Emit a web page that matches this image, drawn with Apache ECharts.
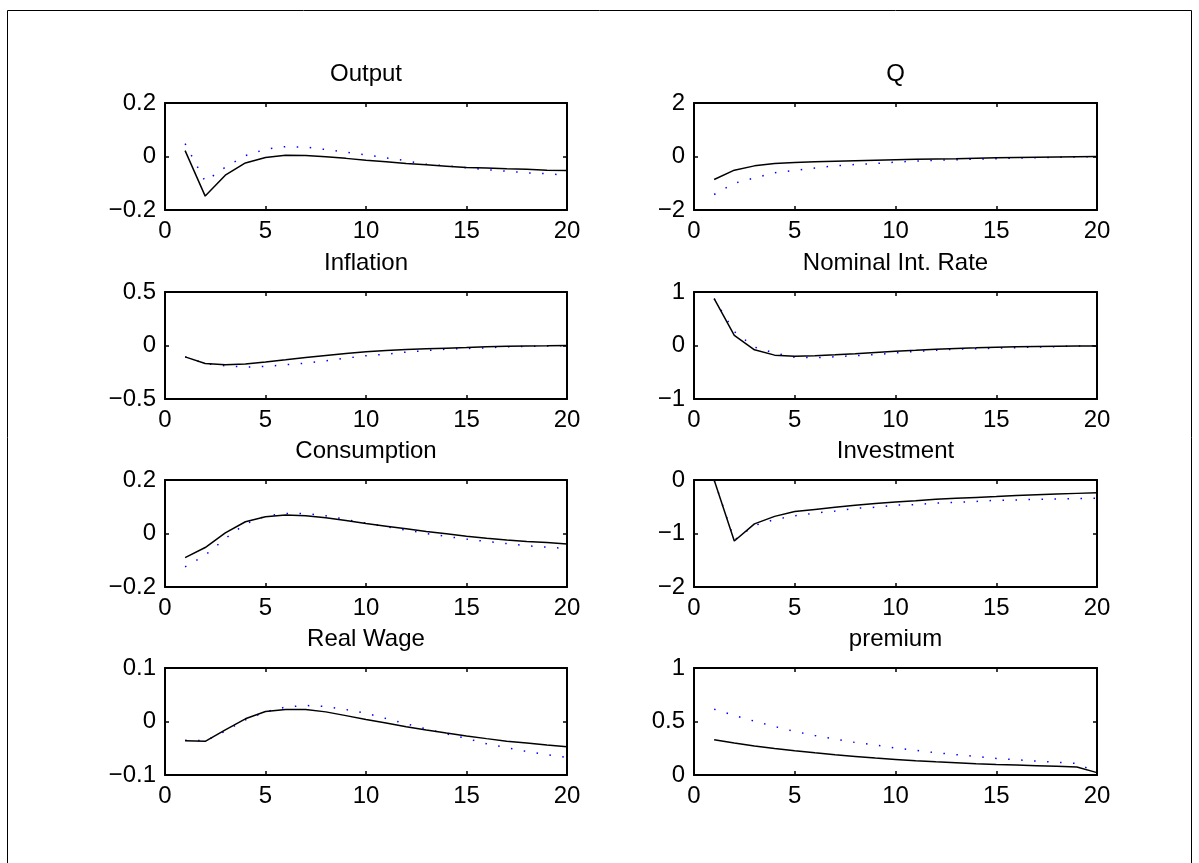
<!DOCTYPE html>
<html>
<head>
<meta charset="utf-8">
<script src="https://cdn.jsdelivr.net/npm/echarts@6/dist/echarts.min.js"></script>
<style>
  html, body { margin: 0; padding: 0; background: #fff; }
  #main { width: 1199px; height: 863px; }
</style>
</head>
<body>
<div id="main"></div>
<script>
var periods = [1,2,3,4,5,6,7,8,9,10,11,12,13,14,15,16,17,18,19,20];
var xTicks = [0, 20, 5];

var titles = ['Output', 'Q', 'Inflation', 'Nominal Int. Rate', 'Consumption', 'Investment', 'Real Wage', 'premium'];
// [min, max, interval] of each panel's y axis
var yRanges = [
    [-0.2, 0.2, 0.2], [-2, 2, 2],
    [-0.5, 0.5, 0.5], [-1, 1, 1],
    [-0.2, 0.2, 0.2], [-2, 0, 1],
    [-0.1, 0.1, 0.1], [0, 1, 0.5]
];

// solid black lines
var outputSolid = [0.022,-0.148,-0.070,-0.024,-0.004,0.005,0.004,-0.001,-0.007,-0.014,-0.020,-0.026,-0.031,-0.036,-0.041,-0.043,-0.046,-0.048,-0.051,-0.052];
var qSolid = [-0.86,-0.51,-0.35,-0.26,-0.22,-0.20,-0.18,-0.16,-0.14,-0.12,-0.105,-0.09,-0.08,-0.065,-0.05,-0.04,-0.03,-0.02,-0.01,0.0];
var inflationSolid = [-0.106,-0.168,-0.180,-0.174,-0.155,-0.134,-0.112,-0.093,-0.075,-0.059,-0.047,-0.037,-0.031,-0.025,-0.019,-0.012,-0.008,-0.005,-0.003,0.0];
var rateSolid = [0.875,0.19,-0.08,-0.18,-0.20,-0.19,-0.175,-0.156,-0.13,-0.106,-0.088,-0.069,-0.056,-0.044,-0.031,-0.025,-0.019,-0.014,-0.010,-0.010];
var consumptionSolid = [-0.090,-0.0525,0.0025,0.044,0.0625,0.069,0.066,0.059,0.049,0.0375,0.0275,0.0175,0.0075,-0.001,-0.010,-0.0175,-0.024,-0.030,-0.034,-0.039];
var investmentSolid = [0.0,-1.14,-0.82,-0.68,-0.59,-0.55,-0.51,-0.47,-0.44,-0.41,-0.39,-0.36,-0.34,-0.325,-0.31,-0.29,-0.275,-0.26,-0.25,-0.24];
var wageSolid = [-0.036,-0.037,-0.0155,0.005,0.0186,0.0224,0.0224,0.018,0.011,0.0037,-0.003,-0.010,-0.016,-0.0217,-0.027,-0.032,-0.0367,-0.040,-0.044,-0.047];
var premiumSolid = [0.329,0.298,0.270,0.248,0.227,0.208,0.190,0.174,0.158,0.146,0.134,0.124,0.115,0.106,0.099,0.093,0.087,0.081,0.075,0.022];

// dotted blue lines
var outputDotted = [0.048,-0.093,-0.040,0.003,0.027,0.037,0.035,0.026,0.016,0.006,-0.005,-0.016,-0.029,-0.035,-0.042,-0.049,-0.055,-0.061,-0.064,-0.070];
var qDotted = [-1.42,-1.0,-0.8,-0.61,-0.52,-0.43,-0.35,-0.30,-0.26,-0.21,-0.17,-0.14,-0.12,-0.10,-0.08,-0.06,-0.05,-0.03,-0.015,0.0];
var inflationDotted = [-0.106,-0.170,-0.190,-0.202,-0.196,-0.180,-0.165,-0.143,-0.118,-0.096,-0.081,-0.062,-0.047,-0.034,-0.028,-0.022,-0.012,-0.009,-0.005,0.0];
var rateDotted = [0.875,0.26,-0.03,-0.14,-0.22,-0.23,-0.21,-0.19,-0.17,-0.14,-0.11,-0.09,-0.07,-0.06,-0.05,-0.04,-0.03,-0.02,-0.01,-0.005];
var consumptionDotted = [-0.125,-0.081,-0.019,0.036,0.065,0.075,0.075,0.066,0.0525,0.039,0.025,0.0125,0.0,-0.011,-0.021,-0.030,-0.0375,-0.046,-0.051,-0.056];
var investmentDotted = [0.0,-1.12,-0.85,-0.74,-0.67,-0.62,-0.58,-0.53,-0.51,-0.47,-0.46,-0.43,-0.42,-0.40,-0.38,-0.375,-0.36,-0.355,-0.345,-0.34];
var wageDotted = [-0.035,-0.036,-0.018,0.003,0.018,0.027,0.030,0.028,0.0224,0.0155,0.0056,-0.0043,-0.014,-0.023,-0.0317,-0.0416,-0.049,-0.056,-0.062,-0.067];
var premiumDotted = [0.615,0.556,0.503,0.453,0.407,0.370,0.335,0.304,0.280,0.252,0.230,0.208,0.190,0.174,0.155,0.143,0.130,0.118,0.109,0.022];

var solidSeries = [outputSolid, qSolid, inflationSolid, rateSolid, consumptionSolid, investmentSolid, wageSolid, premiumSolid];
var dottedSeries = [outputDotted, qDotted, inflationDotted, rateDotted, consumptionDotted, investmentDotted, wageDotted, premiumDotted];

var FONT = 'Liberation Sans';
var FS = 24;
var colLeft = [165, 694];
var colWidth = [402, 403];
var rowTop = [103, 292, 480, 668];
var plotH = 107;

function fmt(v) {
    var a = Math.abs(+v.toFixed(4));
    return (v < -1e-9 ? '\u2212' : '') + a;
}
function pairs(vals) {
    return periods.map(function (p, i) { return [p, vals[i]]; });
}

var myChart = echarts.init(document.getElementById('main'), null, {renderer: 'canvas'});

var grids = [], xAxes = [], yAxes = [], series = [], titleList = [];
var boxLine = {show: true, onZero: false, lineStyle: {color: '#000', width: 2}};
var tickIn = {show: true, inside: true, length: 4, lineStyle: {color: '#000', width: 1.5}};

for (var i = 0; i < 8; i++) {
    var c = i % 2, r = Math.floor(i / 2);
    grids.push({left: colLeft[c], top: rowTop[r], width: colWidth[c], height: plotH, containLabel: false});
    titleList.push({
        text: titles[i],
        left: colLeft[c] + colWidth[c] / 2,
        top: rowTop[r] - 41,
        textAlign: 'center',
        padding: 0,
        textStyle: {fontFamily: FONT, fontSize: FS, fontWeight: 'normal', color: '#000'}
    });
    // bottom x axis with labels, top x axis for mirrored ticks
    xAxes.push({
        gridIndex: i, type: 'value', position: 'bottom',
        min: xTicks[0], max: xTicks[1], interval: xTicks[2],
        axisLine: boxLine, axisTick: tickIn, splitLine: {show: false},
        axisLabel: {margin: 9, fontFamily: FONT, fontSize: FS, color: '#000', formatter: fmt}
    });
    xAxes.push({
        gridIndex: i, type: 'value', position: 'top',
        min: xTicks[0], max: xTicks[1], interval: xTicks[2],
        axisLine: boxLine, axisTick: tickIn, splitLine: {show: false},
        axisLabel: {show: false}
    });
    var yr = yRanges[i];
    yAxes.push({
        gridIndex: i, type: 'value', position: 'left',
        min: yr[0], max: yr[1], interval: yr[2],
        axisLine: boxLine, axisTick: tickIn, splitLine: {show: false},
        axisLabel: {margin: 9, fontFamily: FONT, fontSize: FS, color: '#000', formatter: fmt}
    });
    yAxes.push({
        gridIndex: i, type: 'value', position: 'right',
        min: yr[0], max: yr[1], interval: yr[2],
        axisLine: boxLine, axisTick: tickIn, splitLine: {show: false},
        axisLabel: {show: false}
    });
    series.push({
        type: 'line', xAxisIndex: 2 * i, yAxisIndex: 2 * i,
        data: pairs(dottedSeries[i]), showSymbol: false, symbol: 'none',
        lineStyle: {color: '#0000ff', width: 1.5, type: [1.5, 11.5], cap: 'butt'},
        z: 2
    });
    series.push({
        type: 'line', xAxisIndex: 2 * i, yAxisIndex: 2 * i,
        data: pairs(solidSeries[i]), showSymbol: false, symbol: 'none',
        lineStyle: {color: '#000', width: 1.5},
        z: 3
    });
}

var option = {
    backgroundColor: '#fff',
    animation: false,
    title: titleList,
    grid: grids,
    xAxis: xAxes,
    yAxis: yAxes,
    series: series,
    graphic: [{
        type: 'rect',
        shape: {x: 7.5, y: 10.5, width: 1184, height: 900},
        style: {fill: 'none', stroke: '#000', lineWidth: 1},
        silent: true
    }]
};

myChart.setOption(option);
</script>
</body>
</html>
